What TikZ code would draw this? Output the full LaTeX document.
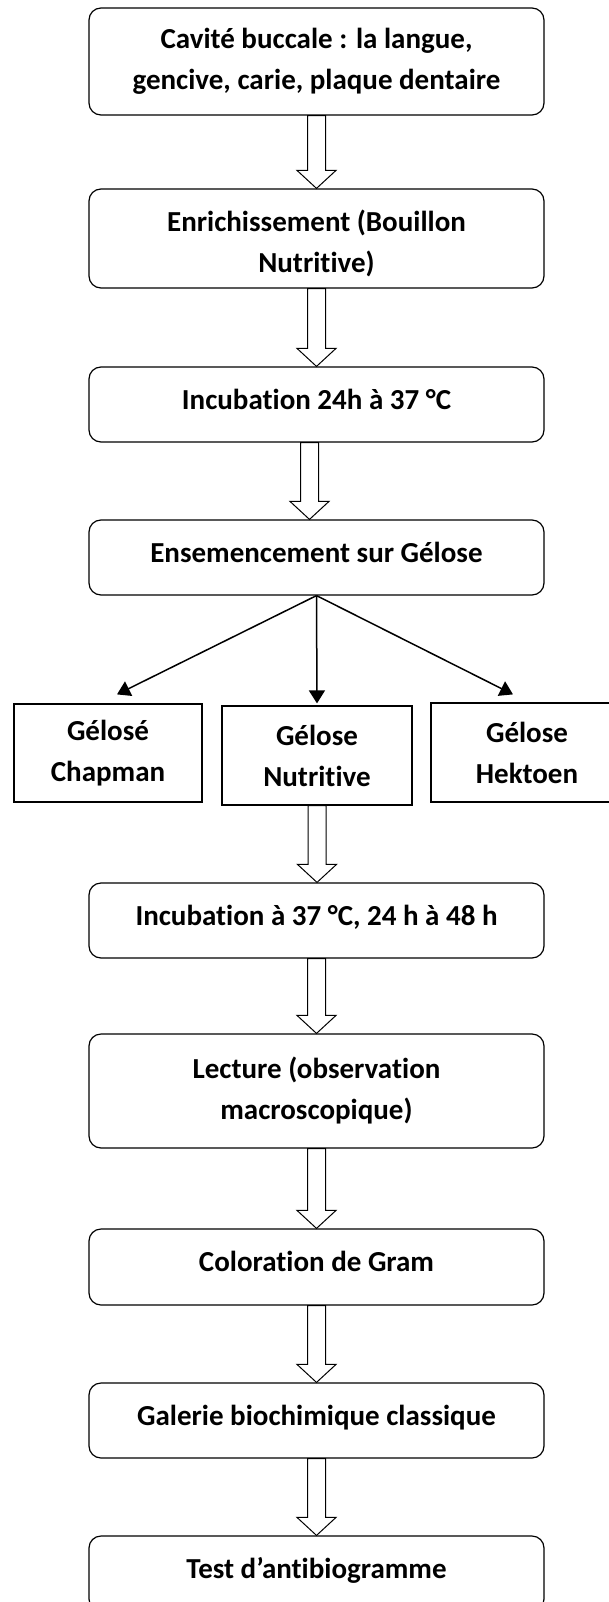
\documentclass[tikz,border=0pt]{standalone}
\usepackage{fontspec}
\setmainfont{Carlito}[Ligatures=NoCommon]
\usetikzlibrary{calc,arrows.meta}
\newcommand\fsz{\fontsize{29pt}{41pt}\selectfont\bfseries}
\newcommand\barrow[3][0pt]{%
  \draw[line width=1pt, fill=white] let \p1=(#2.south), \p2=(#3.north) in
   (\x1+#1-9pt,\y1) -- (\x1+#1-9pt,\y2+18pt) -- (\x1+#1-19.5pt,\y2+18pt) -- (\x1+#1,\y2)
   -- (\x1+#1+19.5pt,\y2+18pt) -- (\x1+#1+9pt,\y2+18pt) -- (\x1+#1+9pt,\y1) -- cycle;}
\begin{document}
\begin{tikzpicture}[x=1pt,y=-1pt,
  rbox/.style={draw, line width=1.2pt, rounded corners=12pt, minimum width=455pt, align=center, font=\fsz, inner sep=0pt},
  one/.style={rbox, minimum height=75pt, text depth=11pt},
  sbox/.style={draw, line width=1.2pt, align=center, font=\fsz, inner sep=0pt},
  br/.style={line width=1.5pt, -{Triangle[length=13pt,width=16pt]}}]
\clip (0,0) rectangle (609,1602);
\fill[white] (0,0) rectangle (609,1602);
\node[rbox, minimum height=107pt] (b1) at (316.5,61.5) {Cavité buccale : la langue,\\gencive, carie, plaque dentaire};
\node[rbox, minimum height=99pt] (b2) at (316.5,238.5) {\raisebox{-5pt}[\height][\depth]{\shortstack{Enrichissement (Bouillon\\[12pt]Nutritive)}}};
\node[one] (b3) at (316.5,404.5) {Incubation 24h à 37 °C};
\node[one] (b4) at (316.5,557.5) {Ensemencement sur Gélose};
\node[sbox, minimum width=188pt, minimum height=98pt] (gc) at (108,753) {Gélosé\\Chapman};
\node[sbox, minimum width=190pt, minimum height=99pt] (gn) at (317,755.5) {Gélose\\Nutritive};
\node[sbox, minimum width=192pt, minimum height=99pt] (gh) at (527,752.5) {Gélose\\Hektoen};
\node[one] (b5) at (316.5,920.5) {Incubation à 37 °C, 24 h à 48 h};
\node[rbox, minimum height=114pt] (b6) at (316.5,1091) {Lecture (observation\\macroscopique)};
\node[one, minimum height=76pt] (b7) at (316.5,1267) {Coloration de Gram};
\node[one] (b8) at (316.5,1420.5) {Galerie biochimique classique};
\node[one] (b9) at (316.5,1573.5) {Test d’antibiogramme};
\barrow{b1}{b2}
\barrow{b2}{b3}
\barrow[-7pt]{b3}{b4}
\draw[br] (b4.south) -- ($(gc.north)+(9,-9)$);
\draw[br] (b4.south) -- ($(gn.north)+(0,-2)$);
\draw[br] (b4.south) -- ($(gh.north)+(-14,-8)$);
\barrow{gn}{b5}
\barrow{b5}{b6}
\barrow{b6}{b7}
\barrow{b7}{b8}
\barrow{b8}{b9}
\end{tikzpicture}
\end{document}
